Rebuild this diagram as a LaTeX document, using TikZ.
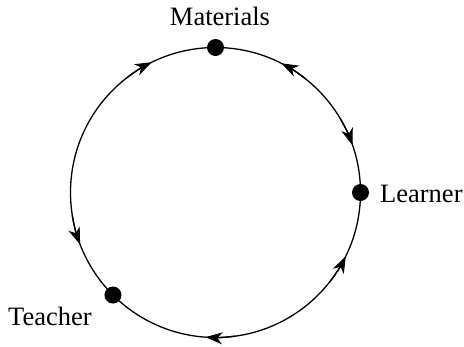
\documentclass[tikz,border=0pt]{standalone}
\usepackage{fontspec}
\setmainfont{Liberation Serif}
\usetikzlibrary{arrows.meta}
\tikzset{
  ring/.style={line width=1.3pt},
  vertex/.style={circle,fill=black,inner sep=0pt,minimum size=17pt},
  lbl/.style={font=\fontsize{26.5}{30}\selectfont,inner sep=0pt},
  flow/.style={line width=1.3pt,-{Stealth[length=17pt,width=12pt,inset=5pt]}}
}
\begin{document}
\begin{tikzpicture}[x=1pt,y=-1pt]
\useasboundingbox (0,0) rectangle (464,346);
\coordinate (c) at (215.5,192.5);
\draw[ring] (c) circle[radius=145];
\node[vertex] (materials) at ([shift={(-90:145)}]c) {};
\node[vertex] (learner) at ([shift={(0:145)}]c) {};
\node[vertex] (teacher) at ([shift={(135:145)}]c) {};
% arcs (y axis flipped: positive angles go down)
\coordinate (a1) at ([shift={(-128:145)}]c);
\draw[flow] (a1) arc[start angle=-128, end angle=-116, radius=145];
\coordinate (a2) at ([shift={(-51:145)}]c);
\draw[flow] (a2) arc[start angle=-51, end angle=-63, radius=145];
\coordinate (a3) at ([shift={(-31:145)}]c);
\draw[flow] (a3) arc[start angle=-31, end angle=-19, radius=145];
\coordinate (a4) at ([shift={(38:145)}]c);
\draw[flow] (a4) arc[start angle=38, end angle=26, radius=145];
\coordinate (a5) at ([shift={(82:145)}]c);
\draw[flow] (a5) arc[start angle=82, end angle=94, radius=145];
\coordinate (a6) at ([shift={(171:145)}]c);
\draw[flow] (a6) arc[start angle=171, end angle=159, radius=145];
\node[lbl,anchor=base] (tmat) at (220,25) {Materials};
\node[lbl,anchor=base west] (tlea) at (380,202) {Learner};
\node[lbl,anchor=base west] (ttea) at (8,325) {Teacher};
\end{tikzpicture}
\end{document}
